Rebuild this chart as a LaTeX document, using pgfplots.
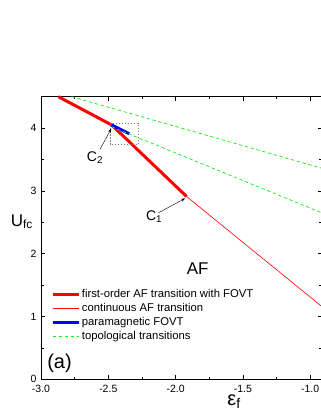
\documentclass[border=0pt]{standalone}
\usepackage{fontspec}
\setmainfont{Liberation Sans}
\usepackage{pgfplots}
\pgfplotsset{compat=1.18}
\usetikzlibrary{arrows.meta}
\definecolor{topo}{RGB}{20,240,20}

\begin{document}
\begin{tikzpicture}[x=1pt,y=1pt]
\begin{axis}[
    at={(41pt,35.7pt)}, anchor=south west,
    scale only axis, width=281pt, height=282.6pt,
    xmin=-3, xmax=-0.9123, ymin=0, ymax=4.5,
    xtick={-3,-2.5,-2,-1.5,-1}, ytick={0,1,2,3,4},
    minor x tick num=1, minor y tick num=1,
    tick align=inside, major tick length=4pt, minor tick length=2.5pt,
    tick style={line width=0.5pt, black},
    axis line style={line width=0.6pt},
    ticklabel style={font=\fontsize{10.5}{12}\selectfont},
    xticklabel style={yshift=-2pt, /pgf/number format/.cd, fixed, fixed zerofill, precision=1},
    yticklabel style={xshift=-1pt},
    /pgf/number format/assume math mode=true,
    clip=false,
    legend style={draw=none, fill=none, at={(rel axis cs:0.0356,0.3195)}, anchor=north west,
        font=\fontsize{11.3}{13}\selectfont, inner sep=0pt, row sep=3pt,
        nodes={inner xsep=1.7pt, inner ysep=0pt, text height=8.5pt, text depth=2.5pt}},
    legend cell align=left,
    legend image code/.code={\draw[#1] (0pt,0pt) -- (26pt,0pt);},
]
% first-order AF transition with FOVT
\addplot[red, line width=3pt] coordinates {(-2.871,4.5) (-2.475,4.05) (-1.918,2.91)};
\addlegendentry{first-order AF transition with FOVT}
% continuous AF transition
\addplot[red, line width=0.6pt] coordinates {(-1.918,2.91) (-0.9123,1.157)};
\addlegendentry{continuous AF transition}
% paramagnetic FOVT
\addplot[blue, line width=3pt] coordinates {(-2.475,4.05) (-2.344,3.91)};
\addlegendentry{paramagnetic FOVT}
% topological transitions
\addplot[topo, line width=0.7pt, dash pattern=on 3.5pt off 2.5pt] coordinates {(-2.772,4.5) (-0.9123,3.36)};
\addlegendentry{topological transitions}
\addplot[topo, line width=0.7pt, dash pattern=on 3.5pt off 2.5pt, forget plot] coordinates {(-2.475,4.02) (-0.9123,2.65)};

\draw[gray, line width=0.5pt, dash pattern=on 1.5pt off 1.5pt] (axis cs:-2.482,3.737) rectangle (axis cs:-2.277,4.083);
\draw[-{Stealth[length=4pt,width=3pt]}, line width=0.4pt] (axis cs:-2.562,3.66) -- (axis cs:-2.478,3.99);
\draw[-{Stealth[length=4pt,width=3pt]}, line width=0.4pt] (axis cs:-2.128,2.65) -- (axis cs:-1.93,2.88);
\node[font=\fontsize{14}{16}\selectfont] at (axis cs:-2.599,3.53) {C\textsubscript{2}};
\node[font=\fontsize{14}{16}\selectfont] at (axis cs:-2.16,2.59) {C\textsubscript{1}};
\node[font=\fontsize{17}{19}\selectfont] at (axis cs:-1.836,1.755) {AF};
\node[font=\fontsize{20}{22}\selectfont] at (rel axis cs:0.066,0.058) {(a)};
\node[font=\fontsize{17}{19}\selectfont] at (rel axis cs:-0.068,0.558) {U\textsubscript{fc}};
\node[font=\fontsize{20}{22}\selectfont] at (rel axis cs:0.687,-0.080) {ε\textsubscript{f}};
\end{axis}
\pgfresetboundingbox
\path[use as bounding box] (0,0) rectangle (321,415);
\end{tikzpicture}
\end{document}
